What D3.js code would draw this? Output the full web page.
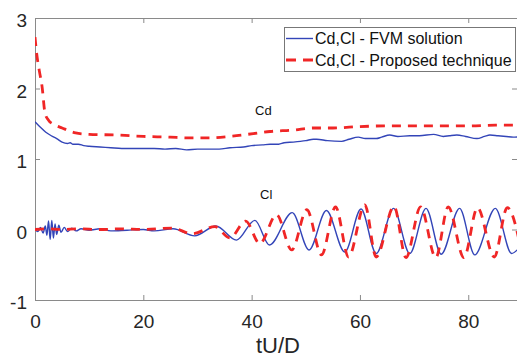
<!DOCTYPE html>
<html>
<head>
<meta charset="utf-8">
<script src="https://d3js.org/d3.v7.min.js"></script>
<style>
  body { margin: 0; background: #fff; }
  text { font-family: "Liberation Sans", Arial, sans-serif; }
</style>
</head>
<body>
<div id="my_dataviz"></div>
<script>
// values: [tU/D, coefficient]
var cdFvm = [[0,1.53],[1,1.45],[2,1.38],[3,1.33],[4,1.29],[5,1.24],[6,1.22],[6.5,1.23],[7,1.21],[8,1.21],
  [9,1.19],[10,1.18],[12,1.17],[14,1.16],[16,1.15],[18,1.15],[20,1.15],[22,1.15],[24,1.14],[26,1.15],
  [28,1.13],[30,1.14],[32,1.14],[34,1.14],[36,1.16],[38.5,1.17],[40,1.19],[42,1.2],[43.4,1.21],[45,1.21],
  [46,1.23],[47.7,1.24],[49,1.25],[50,1.26],[51.4,1.28],[52,1.28],[54,1.26],[56.6,1.25],[58,1.28],
  [59.7,1.31],[61,1.29],[63,1.29],[64,1.31],[65.5,1.34],[67,1.32],[69.2,1.33],[71,1.33],[73.6,1.35],
  [75.4,1.32],[76.5,1.33],[77.9,1.34],[79.5,1.32],[81.6,1.29],[83,1.32],[84,1.34],[85.5,1.33],[87,1.32],
  [88.3,1.31],[90,1.32]];

var cdProposed = [[0,2.73],[0.3,2.5],[0.8,2.25],[1.3,2.03],[1.85,1.65],[2.5,1.55],[3.5,1.49],[5,1.44],
  [7.5,1.37],[10,1.35],[15,1.34],[20,1.32],[25,1.31],[28,1.3],[32,1.3],[36,1.32],[40.3,1.36],[43.4,1.39],
  [47.7,1.41],[51.4,1.44],[55,1.44],[60,1.46],[65,1.47],[70,1.47],[75,1.47],[80,1.47],[85,1.48],[90,1.48]];

var clFvm = [[0,0],[0.5,-0.03],[1,0.03],[1.5,-0.05],[1.9,0.05],[2.2,-0.08],[2.5,0.12],[2.8,-0.14],
  [3.1,0.13],[3.4,-0.12],[3.7,0.08],[4,-0.07],[4.4,0.06],[4.8,-0.04],[5.4,0.03],[6,-0.03],[6.8,0.02],
  [7.6,-0.02],[8.5,0.01],[10,-0.01],[12,0.01],[14,-0.02],[17,-0.01],[20,0],[22,-0.02],[25.5,0.01],
  [29.5,-0.09],[33.4,0.05],[37.2,-0.15],[40.6,0.13],[43.3,-0.22],[47.5,0.24],[50.6,-0.29],[53.8,0.27],
  [57.2,-0.32],[60.2,0.29],[63,-0.34],[66.2,0.3],[69.2,-0.34],[72.2,0.3],[75,-0.35],[78.4,0.3],
  [81.2,-0.36],[85,0.3],[88,-0.34],[90,-0.2]];

var clProposed = [[0,0],[2,0.01],[5,0],[8,0.01],[12,0],[16,0.01],[20,0],[25.3,0.02],[29,-0.06],
  [33.2,0.04],[36,-0.12],[38.9,0.12],[41.5,-0.2],[44.6,0.21],[47.4,-0.29],[50.2,0.28],[52.9,-0.36],
  [55.5,0.32],[57.9,-0.39],[60.9,0.35],[63,-0.39],[66.3,0.33],[68.5,-0.4],[71.2,0.32],[74,-0.4],
  [76.3,0.32],[79.2,-0.4],[81.7,0.31],[84.8,-0.39],[87.2,0.31],[90,-0.38]];

var xTicks = [0, 20, 40, 60, 80];
var yTicks = [-1, 0, 1, 2, 3];
var legendNames = ["Cd,Cl - FVM solution", "Cd,Cl - Proposed technique"];

var margin = { top: 18, right: 0, bottom: 58, left: 35 },
    width = 517 - margin.left - margin.right,
    height = 358 - margin.top - margin.bottom;

var blue = "#3345b8", red = "#f02626", axisGray = "#8a8a8a";

var svg = d3.select("#my_dataviz")
    .append("svg")
    .attr("width", width + margin.left + margin.right)
    .attr("height", height + margin.top + margin.bottom)
    .append("g")
    .attr("transform", "translate(" + margin.left + "," + margin.top + ")");

var x = d3.scaleLinear().domain([0, 89]).range([0, width]);
var y = d3.scaleLinear().domain([-1, 3]).range([height, 0]);

svg.append("clipPath").attr("id", "plotClip")
    .append("rect").attr("width", width).attr("height", height);

// plain labels with a hyphen minus, like the original
var plainFormat = function (d) { return String(d) };

// axes (ticks point inward, box on all sides)
function styleAxis(g) {
    g.select(".domain").attr("stroke", axisGray);
    g.selectAll(".tick line").attr("stroke", axisGray);
    g.selectAll(".tick text").attr("fill", "#262626").style("font-size", "19px");
}
svg.append("g")
    .attr("transform", "translate(0," + height + ")")
    .call(d3.axisBottom(x).tickValues(xTicks).tickFormat(plainFormat)
        .tickSizeInner(-5).tickSizeOuter(0).tickPadding(14.5))
    .call(styleAxis);
svg.append("g")
    .call(d3.axisTop(x).tickValues(xTicks).tickSizeInner(-5).tickSizeOuter(0).tickFormat(""))
    .call(styleAxis);
svg.append("g")
    .call(d3.axisLeft(y).tickValues(yTicks).tickFormat(plainFormat)
        .tickSizeInner(-5).tickSizeOuter(0).tickPadding(8))
    .call(styleAxis)
    .selectAll(".tick text").attr("dy", "0.45em");
svg.append("g")
    .attr("transform", "translate(" + width + ",0)")
    .call(d3.axisRight(y).tickValues(yTicks).tickSizeInner(-5).tickSizeOuter(0).tickFormat(""))
    .call(styleAxis);

// the curves
var line = d3.line()
    .x(function (d) { return x(d[0]) })
    .y(function (d) { return y(d[1]) })
    .curve(d3.curveMonotoneX);

var plot = svg.append("g").attr("clip-path", "url(#plotClip)");
[cdFvm, clFvm].forEach(function (s) {
    plot.append("path")
        .attr("d", line(s))
        .attr("fill", "none")
        .attr("stroke", blue)
        .attr("stroke-width", 1.4);
});
[cdProposed, clProposed].forEach(function (s) {
    plot.append("path")
        .attr("d", line(s))
        .attr("fill", "none")
        .attr("stroke", red)
        .attr("stroke-width", 2.8)
        .attr("stroke-dasharray", "9,7");
});

// curve names
svg.append("text")
    .attr("x", 220).attr("y", 97)
    .style("font-size", "13px").attr("fill", "#111")
    .text("Cd");
svg.append("text")
    .attr("x", 225).attr("y", 180.5)
    .style("font-size", "13px").attr("fill", "#111")
    .text("Cl");

// legend
var legend = svg.append("g").attr("transform", "translate(249,9)");
legend.append("rect")
    .attr("x", 0.5).attr("y", 0.5)
    .attr("width", 231).attr("height", 44)
    .attr("fill", "#fff")
    .attr("stroke", "#777");
legend.selectAll("myLegendLines")
    .data(legendNames)
    .enter()
    .append("line")
    .attr("x1", 2).attr("x2", 29)
    .attr("y1", function (d, i) { return 11.5 + i * 21.5 })
    .attr("y2", function (d, i) { return 11.5 + i * 21.5 })
    .attr("stroke", function (d, i) { return i == 0 ? blue : red })
    .attr("stroke-width", function (d, i) { return i == 0 ? 1.4 : 2.8 })
    .attr("stroke-dasharray", function (d, i) { return i == 0 ? null : "10,7" });
legend.selectAll("myLegendText")
    .data(legendNames)
    .enter()
    .append("text")
    .attr("x", 31)
    .attr("y", function (d, i) { return 17 + i * 21.5 })
    .style("font-size", "16px")
    .attr("fill", "#111")
    .text(function (d) { return d });

// x axis label
svg.append("text")
    .attr("x", 243).attr("y", height + 53)
    .attr("text-anchor", "middle")
    .style("font-size", "22px")
    .attr("fill", "#262626")
    .text("tU/D");
</script>
</body>
</html>
